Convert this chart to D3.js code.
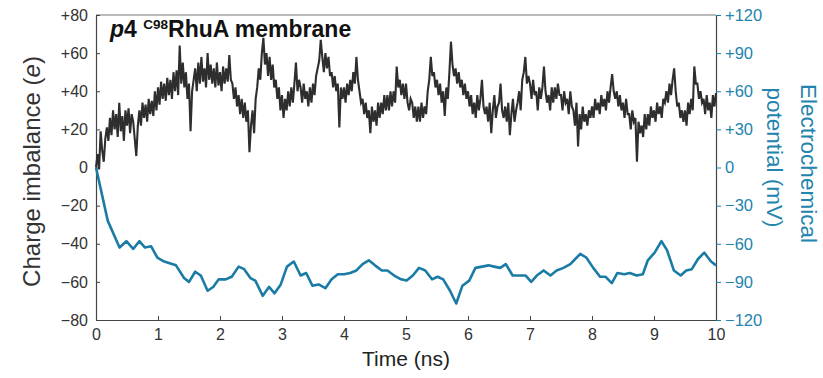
<!DOCTYPE html>
<html>
<head>
<meta charset="utf-8">
<script src="https://cdn.jsdelivr.net/npm/d3@7"></script>
<style>
  body { margin: 0; background: #fff; }
  svg text { font-family: "Liberation Sans", Arial, sans-serif; }
</style>
</head>
<body>
<div id="chart"></div>
<script>
// charge imbalance (e), sampled every 0.025 ns from 0 to 10 ns
const chargeStep = 0.025;
const chargeValues = [
  0, 7, -1, 19,  9, 3, 15, 21,  14, 26, 17, 30,  20, 28, 16, 34,  19, 27, 14, 30,
  22, 31, 18, 28,  24, 15, 6, 22,  30, 22, 34, 26,  33, 24, 36, 28,  35, 27, 40, 30,
  42, 33, 45, 36,  44, 35, 47, 38,  46, 36, 50, 40,  51, 38, 64, 44,  55, 42, 50, 36,
  44, 19, 40, 46,  52, 40, 55, 44,  58, 45, 52, 42,  60, 46, 54, 44,  52, 42, 55, 43,
  50, 40, 53, 44,  52, 45, 59, 46,  44, 36, 42, 32,  38, 28, 36, 26,  34, 24, 30, 8,
  22, 30, 18, 36,  42, 52, 46, 60,  68, 54, 60, 48,  58, 46, 54, 42,  46, 36, 42, 30,
  38, 26, 36, 30,  40, 32, 42, 34,  44, 55, 40, 46,  42, 34, 44, 36,  40, 32, 42, 34,
  44, 38, 48, 52,  56, 67, 58, 50,  60, 52, 58, 48,  50, 42, 48, 40,  44, 21, 42, 36,
  42, 34, 44, 38,  46, 40, 50, 44,  58, 46, 40, 34,  36, 28, 34, 26,  30, 18, 32, 24,
  30, 22, 34, 26,  34, 28, 38, 30,  38, 30, 40, 32,  40, 34, 53, 42,  46, 38, 44, 36,
  44, 34, 30, 36,  34, 26, 32, 24,  32, 24, 34, 26,  32, 28, 40, 46,  58, 48, 50, 42,
  46, 38, 44, 34,  40, 27, 42, 36,  50, 66, 54, 48,  52, 44, 50, 42,  46, 38, 44, 36,
  40, 32, 38, 28,  34, 26, 38, 30,  36, 46, 32, 28,  32, 24, 34, 18,  30, 38, 26, 32,
  34, 44, 30, 26,  32, 24, 34, 17,  28, 36, 24, 30,  34, 40, 30, 46,  50, 58, 44, 48,
  44, 36, 46, 38,  40, 30, 42, 36,  42, 53, 40, 34,  38, 30, 42, 34,  42, 36, 44, 38,
  38, 30, 40, 34,  36, 28, 40, 32,  30, 22, 34, 11,  28, 20, 32, 24,  28, 22, 30, 26,
  32, 26, 36, 30,  34, 28, 38, 32,  36, 30, 40, 34,  42, 49, 40, 36,  40, 32, 38, 30,
  34, 26, 36, 28,  28, 20, 30, 24,  26, 3, 24, 18,  22, 16, 28, 20,  28, 22, 32, 26,
  30, 24, 34, 28,  32, 26, 36, 34,  40, 34, 44, 38,  46, 52, 40, 32,  34, 26, 30, 24,
  30, 22, 34, 28,  36, 30, 53, 44,  44, 36, 40, 34,  36, 28, 38, 30,  34, 26, 38, 32,
  39
];

// electrochemical potential (mV)
const potentialTimes = [
  0, 0.19, 0.38, 0.49, 0.6, 0.7, 0.79, 0.89, 0.99, 1.1, 1.29, 1.42, 1.5, 1.6, 1.69,
  1.8, 1.89, 1.98, 2.09, 2.19, 2.3, 2.39, 2.49, 2.57, 2.69, 2.79, 2.88, 2.98, 3.08,
  3.19, 3.3, 3.39, 3.49, 3.59, 3.7, 3.8, 3.9, 4.0, 4.1, 4.2, 4.3, 4.4, 4.5, 4.61,
  4.7, 4.81, 4.92, 5.01, 5.11, 5.21, 5.31, 5.42, 5.51, 5.6, 5.71, 5.81, 5.91, 6.02,
  6.12, 6.23, 6.33, 6.42, 6.52, 6.61, 6.72, 6.83, 6.93, 7.02, 7.11, 7.22, 7.33,
  7.43, 7.54, 7.65, 7.73, 7.81, 7.91, 8.02, 8.13, 8.22, 8.32, 8.41, 8.52, 8.61,
  8.72, 8.82, 8.9, 9.01, 9.12, 9.21, 9.32, 9.43, 9.52, 9.61, 9.71, 9.81, 9.92, 10
];
const potentialValues = [
  0, -42, -63, -58, -64, -58, -63, -62, -71, -74, -77, -87, -90, -82, -85,
  -97, -94, -88, -88, -86, -78, -80, -87, -89, -101, -94, -99, -92, -78,
  -74, -85, -83, -93, -92, -95, -88, -84, -84, -83, -81, -76, -73, -77, -81,
  -81, -85, -88, -89, -85, -79, -81, -88, -86, -88, -97, -107, -93, -89,
  -79, -78, -77, -78, -79, -76, -85, -85, -85, -90, -85, -81, -85,
  -81, -79, -76, -72, -68, -71, -79, -86, -86, -91, -83, -84, -83,
  -85, -84, -73, -67, -58, -65, -81, -85, -81, -80, -72, -67, -74, -77
];

const leftTicks = [-80, -60, -40, -20, 0, 20, 40, 60, 80];
const rightTicks = [-120, -90, -60, -30, 0, 30, 60, 90, 120];
const timeTicks = [0, 1, 2, 3, 4, 5, 6, 7, 8, 9, 10];

const W = 823, H = 378;
const margin = {top: 15, right: 107, bottom: 58, left: 96};
const width = W - margin.left - margin.right;
const height = H - margin.top - margin.bottom;

const black = '#2e2e2e';
const blue = '#1a7ca5';
const blueText = '#2384ad';

const svg = d3.select('#chart').append('svg')
  .attr('width', W)
  .attr('height', H);

const g = svg.append('g')
  .attr('transform', 'translate(' + margin.left + ',' + margin.top + ')');

const x = d3.scaleLinear().domain([0, 10]).range([0, width]);
const yL = d3.scaleLinear().domain([-80, 80]).range([height, 0]);
const yR = d3.scaleLinear().domain([-120, 120]).range([height, 0]);

const signed = (v) => (v > 0 ? '+' + v : v < 0 ? '\u2212' + Math.abs(v) : '0');

// frame top line
g.append('line')
  .attr('x1', 0).attr('x2', width).attr('y1', 0).attr('y2', 0)
  .attr('stroke', '#777').attr('stroke-width', 1);

// axes
const xAxis = g.append('g')
  .attr('transform', 'translate(0,' + height + ')')
  .call(d3.axisBottom(x).tickValues(timeTicks).tickSizeInner(-4).tickSizeOuter(0).tickPadding(9));

const leftAxis = g.append('g')
  .call(d3.axisLeft(yL).tickValues(leftTicks).tickSizeInner(-4).tickSizeOuter(0).tickPadding(8).tickFormat(signed));

const rightAxis = g.append('g')
  .attr('transform', 'translate(' + width + ',0)')
  .call(d3.axisRight(yR).tickValues(rightTicks).tickSizeInner(5).tickSizeOuter(0).tickPadding(4).tickFormat(signed));

[xAxis, leftAxis].forEach((a) => {
  a.select('.domain').attr('stroke', '#444').attr('stroke-width', 1.2);
  a.selectAll('.tick line').attr('stroke', '#444');
  a.selectAll('.tick text').attr('fill', '#333').style('font-size', '16px');
});
rightAxis.select('.domain').attr('stroke', '#444').attr('stroke-width', 1.2);
rightAxis.selectAll('.tick line').attr('stroke', blue);
rightAxis.selectAll('.tick text').attr('fill', blueText).style('font-size', '16.5px');

// charge imbalance trace
const chargeLine = d3.line()
  .x((d, i) => x(i * chargeStep))
  .y((d) => yL(d));

g.append('path')
  .datum(chargeValues)
  .attr('d', chargeLine)
  .attr('fill', 'none')
  .attr('stroke', black)
  .attr('stroke-width', 2.1)
  .attr('stroke-linejoin', 'miter');

// electrochemical potential trace
const potLine = d3.line()
  .x((d, i) => x(potentialTimes[i]))
  .y((d) => yR(d));

g.append('path')
  .datum(potentialValues)
  .attr('d', potLine)
  .attr('fill', 'none')
  .attr('stroke', blue)
  .attr('stroke-width', 2.6)
  .attr('stroke-linejoin', 'round');

// title inside plot
const title = g.append('text')
  .attr('x', 14)
  .attr('y', 22)
  .attr('fill', '#111')
  .style('font-size', '23px')
  .style('font-weight', 'bold');
title.append('tspan').style('font-style', 'italic').text('p');
title.append('tspan').text('4 ');
title.append('tspan').style('font-size', '13.5px').attr('dy', -8).text('C98');
title.append('tspan').attr('dy', 8).text('RhuA membrane');

// axis labels
const yLabel = svg.append('text')
  .attr('transform', 'translate(40,' + (margin.top + height / 2 + 4) + ') rotate(-90)')
  .attr('text-anchor', 'middle')
  .attr('fill', '#333')
  .style('font-size', '24px');
yLabel.append('tspan').text('Charge imbalance (');
yLabel.append('tspan').style('font-style', 'italic').text('e');
yLabel.append('tspan').text(')');

svg.append('text')
  .attr('x', margin.left + width / 2)
  .attr('y', 366)
  .attr('text-anchor', 'middle')
  .attr('fill', '#222')
  .style('font-size', '21px')
  .text('Time (ns)');

const rLabel = svg.append('g')
  .attr('fill', blueText)
  .style('font-size', '22.5px');
rLabel.append('text')
  .attr('transform', 'translate(801,' + (margin.top + height / 2 - 4) + ') rotate(90)')
  .attr('text-anchor', 'middle')
  .text('Electrochemical');
rLabel.append('text')
  .attr('transform', 'translate(767,' + (margin.top + height / 2 - 10) + ') rotate(90)')
  .attr('text-anchor', 'middle')
  .text('potential (mV)');
</script>
</body>
</html>
